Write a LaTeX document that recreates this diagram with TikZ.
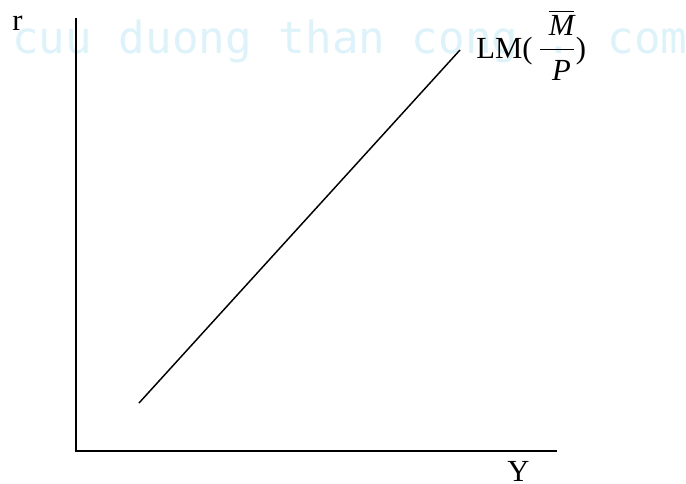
\documentclass[tikz,border=0pt]{standalone}
\usepackage{amsmath,amssymb}
\usepackage{fontspec}
\setmainfont{Liberation Serif}
\newfontfamily\wmfont{DejaVu Sans Mono}
\usepackage{tikz}
\definecolor{wmcyan}{RGB}{222,242,250}

\begin{document}
\begin{tikzpicture}[x=0.75pt,y=0.75pt,yscale=-1,xscale=1]
\useasboundingbox (0,0) rectangle (686,483);

% Watermark
\node [anchor=base west,inner sep=0pt,text=wmcyan] (wm) at (12,53) {\wmfont\fontsize{33.2}{36}\selectfont cuu duong than cong . com};

% Axes
\coordinate (orig) at (76,451);
\coordinate (rtop) at (76,18);
\coordinate (yend) at (557,451);
\draw [line width=1.5] (rtop) -- (orig) -- (yend) ;

%Straight Lines
\coordinate (lmlow) at (139,403);
\coordinate (lmhigh) at (460,50);
\draw [line width=1.1] (lmlow) -- (lmhigh) ;

% Text Node
\node [anchor=base west,inner sep=0pt] (rlabel) at (12,30) {\fontsize{23}{27}\selectfont r};
% Text Node
\node [anchor=base west,inner sep=0pt] (ylabel) at (507,481) {\fontsize{23}{27}\selectfont Y};
% Text Node
\node [anchor=base west,inner sep=0pt] (lmlabel) at (476,58) {\fontsize{23}{27}\selectfont LM($\,\dfrac{\;\overline{\text{\itshape M}}}{\;\text{\itshape P}}$)};

\end{tikzpicture}
\end{document}
